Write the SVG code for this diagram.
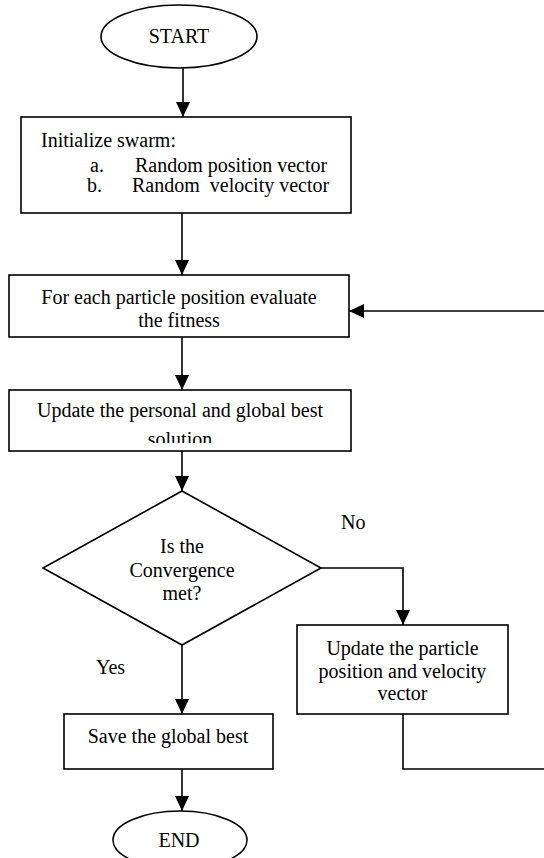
<svg xmlns="http://www.w3.org/2000/svg" width="544" height="858" viewBox="0 0 544 858">
<style>
.s{fill:#fff;stroke:#000;stroke-width:1.6}
.t{font-family:"Liberation Serif","Times New Roman",serif;font-size:20px;fill:#000}
.m{text-anchor:middle}
.c{fill:none;stroke:#000;stroke-width:1.6}
</style>
<defs>
<marker id="ah" markerWidth="15" markerHeight="14" refX="15" refY="7" orient="auto" markerUnits="userSpaceOnUse">
<path d="M0,0 L15,7 L0,14 Z" fill="#000"/>
</marker>
<clipPath id="cp3"><rect x="9" y="390" width="342" height="53"/></clipPath>
</defs>
<rect width="544" height="858" fill="#fff"/>
<g id="connectors">
<line class="c" x1="183" y1="68" x2="183" y2="117" marker-end="url(#ah)"/>
<line class="c" x1="182" y1="213" x2="182" y2="275" marker-end="url(#ah)"/>
<line class="c" x1="182" y1="337" x2="182" y2="390" marker-end="url(#ah)"/>
<line class="c" x1="182" y1="451" x2="182" y2="491" marker-end="url(#ah)"/>
<polyline class="c" points="321,568 403,568 403,625" marker-end="url(#ah)"/>
<line class="c" x1="182" y1="645" x2="182" y2="714" marker-end="url(#ah)"/>
<line class="c" x1="182" y1="769" x2="182" y2="811" marker-end="url(#ah)"/>
<polyline class="c" points="403,714 403,769 545,769"/>
<line class="c" x1="545" y1="311" x2="349" y2="311" marker-end="url(#ah)"/>
<text class="t" x="341" y="529">No</text>
<text class="t" x="96" y="674">Yes</text>
</g>
<g id="start">
<ellipse class="s" cx="179" cy="36.5" rx="78" ry="31.5"/>
<text class="t m" x="179" y="43">START</text>
</g>
<g id="init">
<rect class="s" x="21" y="117" width="330" height="96"/>
<text class="t" x="41" y="147">Initialize swarm:</text>
<text class="t" x="90" y="172">a.</text>
<text class="t" x="135" y="172">Random position vector</text>
<text class="t" x="87" y="192">b.</text>
<text class="t" x="132" y="192" xml:space="preserve">Random  velocity vector</text>
</g>
<g id="evaluate">
<rect class="s" x="9" y="275" width="340" height="62"/>
<text class="t m" x="179" y="304">For each particle position evaluate</text>
<text class="t m" x="179" y="327">the fitness</text>
</g>
<g id="update-best">
<rect class="s" x="9" y="390" width="342" height="61"/>
<text class="t m" x="180" y="417">Update the personal and global best</text>
<text class="t m" x="180" y="446" clip-path="url(#cp3)">solution</text>
</g>
<g id="decision">
<polygon class="s" points="182,491 321,568 182,645 43,568"/>
<text class="t m" x="182" y="553">Is the</text>
<text class="t m" x="182" y="577">Convergence</text>
<text class="t m" x="182" y="600">met?</text>
</g>
<g id="update-particle">
<rect class="s" x="297" y="625" width="211" height="89"/>
<text class="t m" x="402.5" y="655">Update the particle</text>
<text class="t m" x="402.5" y="678">position and velocity</text>
<text class="t m" x="402.5" y="700">vector</text>
</g>
<g id="save">
<rect class="s" x="64" y="714" width="209" height="55"/>
<text class="t m" x="168" y="743">Save the global best</text>
</g>
<g id="end">
<ellipse class="s" cx="180" cy="840" rx="67" ry="29"/>
<text class="t m" x="179" y="847">END</text>
</g>
</svg>
